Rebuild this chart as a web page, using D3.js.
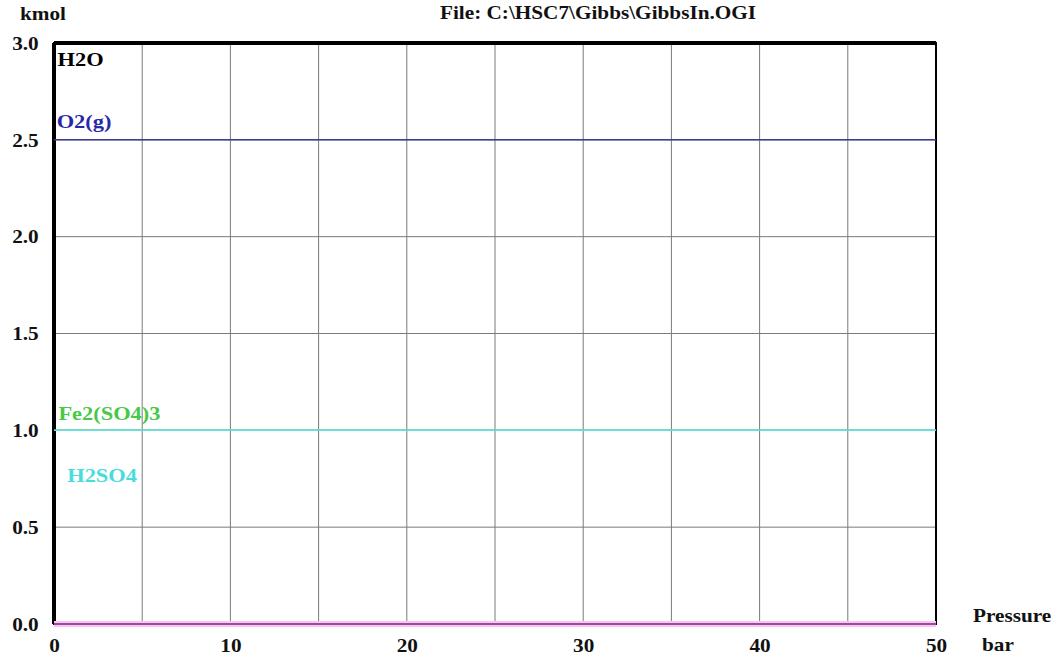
<!DOCTYPE html>
<html>
<head>
<meta charset="utf-8">
<script src="https://cdn.jsdelivr.net/npm/d3@7"></script>
<style>
  body { margin: 0; background: #fff; }
  text { font-family: "Liberation Serif", "Times New Roman", serif; font-weight: bold; }
</style>
</head>
<body>
<div id="chart"></div>
<script>
// Data
const pressure = [0, 50];
const species = ['H2O', 'O2(g)', 'Fe2(SO4)3', 'H2SO4', 'FeSO4'];
const amounts = [
  [3.0, 3.0],
  [2.5, 2.5],
  [1.0, 1.0],
  [1.0, 1.0],
  [0.0, 0.0]
];
const lineColors = ['#000000', '#3c3c96', '#40c040', '#66e0e0', '#8a1a8a'];
const labelColors = ['#000000', '#2828a8', '#48c848', '#48dcdc', null];
// where the curve labels sit (bar, kmol)
const labelAt = [[0.2, 2.88], [0.15, 2.56], [0.25, 1.053], [0.75, 0.733], null];
const xTicks = [0, 10, 20, 30, 40, 50];
const yTicks = [0.0, 0.5, 1.0, 1.5, 2.0, 2.5, 3.0];

const margin = { top: 43, right: 123, bottom: 31, left: 54 };
const svgWidth = 1059, svgHeight = 655;
const chartWidth = svgWidth - margin.left - margin.right;
const chartHeight = svgHeight - margin.top - margin.bottom;
const stretch = 1.18;  // the original lettering is a bit wide

const svg = d3.select('#chart').append('svg')
  .attr('width', svgWidth)
  .attr('height', svgHeight);

const chart = svg.append('g')
  .attr('transform', `translate(${margin.left}, ${margin.top})`);

const xScale = d3.scaleLinear().domain([0, 50]).range([0, chartWidth]);
const yScale = d3.scaleLinear().domain([0, 3]).range([chartHeight, 0]);

// wide text helper
function wideText(parent, x, y, str, size, anchor) {
  return parent.append('text')
    .attr('transform', `translate(${x}, ${y}) scale(${stretch}, 1)`)
    .attr('text-anchor', anchor || 'start')
    .style('font-size', size + 'px')
    .attr('fill', '#111')
    .text(str);
}

// grid
chart.append('g')
  .selectAll('line')
  .data(d3.range(5, 50, 5))
  .join('line')
  .attr('x1', d => xScale(d)).attr('x2', d => xScale(d))
  .attr('y1', 0).attr('y2', chartHeight)
  .attr('stroke', '#7a7a7a').attr('stroke-width', 1);

chart.append('g')
  .selectAll('line')
  .data(yTicks.slice(1, -1))
  .join('line')
  .attr('x1', 0).attr('x2', chartWidth)
  .attr('y1', d => yScale(d)).attr('y2', d => yScale(d))
  .attr('stroke', '#7a7a7a').attr('stroke-width', 1);

// axes (labels only, no tick marks)
const xAxis = d3.axisBottom(xScale).tickValues(xTicks).tickFormat(d3.format('d')).tickSize(0).tickPadding(12);
const yAxis = d3.axisLeft(yScale).tickValues(yTicks).tickFormat(d3.format('.1f')).tickSize(0).tickPadding(13);

const gx = chart.append('g').attr('transform', `translate(0, ${chartHeight})`).call(xAxis);
const gy = chart.append('g').call(yAxis);
[gx, gy].forEach(g => {
  g.select('.domain').remove();
  g.selectAll('text')
    .style('font-family', '"Liberation Serif", serif')
    .style('font-weight', 'bold')
    .style('font-size', '18px')
    .attr('fill', '#111')
    .attr('transform', `scale(${stretch}, 1)`);
});
gx.selectAll('text').attr('dy', '0.9em');
gy.selectAll('text').attr('dy', '0.35em');

// frame
chart.append('rect')
  .attr('x', 0).attr('y', 0)
  .attr('width', chartWidth).attr('height', chartHeight)
  .attr('fill', 'none').attr('stroke', '#000').attr('stroke-width', 2);
chart.append('line')
  .attr('x1', 0).attr('x2', 0).attr('y1', 0).attr('y2', chartHeight)
  .attr('stroke', '#000').attr('stroke-width', 4);
chart.append('line')
  .attr('x1', 0).attr('x2', chartWidth).attr('y1', 0).attr('y2', 0)
  .attr('stroke', '#000').attr('stroke-width', 4);

// series
const line = d3.line()
  .x((d, i) => xScale(pressure[i]))
  .y(d => yScale(d));

// faint halo under the bottom line
chart.append('path')
  .attr('d', line(amounts[4]))
  .attr('fill', 'none').attr('stroke', '#f4c8f0').attr('stroke-width', 6);

species.forEach((s, i) => {
  chart.append('path')
    .attr('d', line(amounts[i]))
    .attr('fill', 'none')
    .attr('stroke', lineColors[i])
    .attr('stroke-width', i === 0 ? 0 : 1.5);
});

// curve labels
species.forEach((s, i) => {
  if (!labelAt[i]) return;
  wideText(chart, xScale(labelAt[i][0]), yScale(labelAt[i][1]), s, 19)
    .attr('fill', labelColors[i]);
});

// titles
wideText(svg, 20, 20, 'kmol', 18);
wideText(svg, 598, 19, 'File: C:\\HSC7\\Gibbs\\GibbsIn.OGI', 18, 'middle');
wideText(svg, 973, 622, 'Pressure', 18);
wideText(svg, 982, 651, 'bar', 18);
</script>
</body>
</html>
